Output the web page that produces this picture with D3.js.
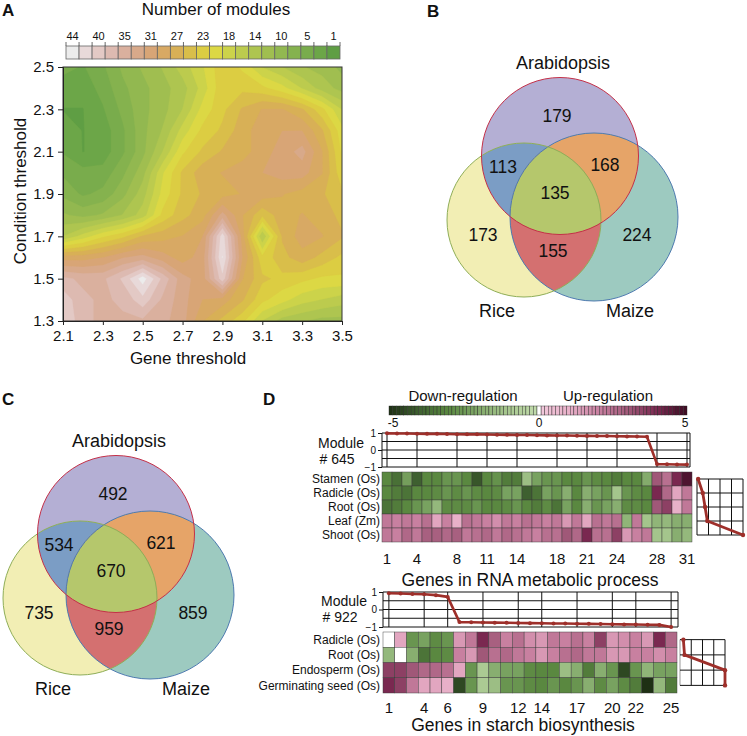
<!DOCTYPE html>
<html><head><meta charset="utf-8">
<script src="https://cdn.jsdelivr.net/npm/d3@7/dist/d3.min.js"></script>
<style>
html,body{margin:0;padding:0;background:#fff;}
svg{display:block;}
text{font-family:"Liberation Sans",Arial,Helvetica,sans-serif;fill:#111;}
</style></head>
<body>
<svg id="fig" width="747" height="736" viewBox="0 0 747 736"></svg>
<script>
// ================= DATA =================
// Panel A : number of modules on a gene-threshold x condition-threshold grid
const geneThresholds = [2.1,2.2,2.3,2.4,2.5,2.6,2.7,2.8,2.9,3.0,3.1,3.2,3.3,3.4,3.5];
const conditionThresholds = [1.3,1.4,1.5,1.6,1.7,1.8,1.9,2.0,2.1,2.2,2.3,2.4,2.5];
const geneTicks = [2.1,2.3,2.5,2.7,2.9,3.1,3.3,3.5];
const conditionTicks = [1.3,1.5,1.7,1.9,2.1,2.3,2.5];
const moduleCountTicks = [44,40,35,31,27,23,18,14,10,5,1];
const moduleBandColors = ["#ececec","#e8d9d9","#e3c9c5","#ddbab1","#dab09e","#d8a98a","#d8a576","#d8a964","#d8b056","#d9be4a","#dccd42","#dcd844","#ccd34a","#bccb4e","#aec550","#a0be50","#92b850","#85b24e","#79ac4c","#6ca648","#5f9e44"];
// rows: condition 1.3 (first) ... 2.5 (last); columns: gene 2.1 ... 3.5
const moduleCounts = [
  [41,37,36,36,36,35,33,28,25,22,17,14,13,12,12],
  [40,37,36,37,40,36,33,30,29,26,22,20,18,17,16],
  [37,36,36,39,44,38,33,31,40,28,24,23,22,21,21],
  [29,29,30,32,33,31,29,31,43,30,22,25,27,25,23],
  [15,18,21,23,26,27,28,30,42,29,15,26,29,28,26],
  [11,10,11,13,16,22,25,27,33,28,24,27,28,27,25],
  [8,6,7,10,14,20,24,26,27,28,29,28,27,26,24],
  [6,5,5,8,12,19,24,27,28,29,30,31,31,28,22],
  [4,2,3,6,10,15,21,24,26,27,29,31,33,28,21],
  [3,2,3,6,10,13,18,22,24,27,29,30,30,26,20],
  [2,2,4,7,10,12,15,20,23,26,28,28,26,22,17],
  [3,3,5,8,10,12,14,18,23,23,22,20,17,14,12],
  [5,4,6,9,11,13,16,19,23,21,17,15,13,12,10]
];

// Panels B and C : Venn counts
const vennSetNames = ["Arabidopsis","Rice","Maize"];
const vennRegionKeys = ["A","AR","AM","ARM","R","M","RM"];
const vennCountsB = [179,113,168,135,173,224,155];
const vennCountsC = [492,534,621,670,735,859,959];

// Panel D : module #645
const module645Profile = [0.98,0.97,0.97,0.96,0.95,0.95,0.94,0.93,0.92,0.92,0.91,0.90,0.89,0.88,0.88,0.87,0.86,0.85,0.85,0.84,0.83,0.82,0.82,0.81,0.80,0.79,0.78,-0.83,-0.84,-0.85,-0.86];
const module645Conditions = ["Stamen (Os)","Radicle (Os)","Root (Os)","Leaf (Zm)","Shoot (Os)"];
const module645Heat = [
  [-3,-3.6,-2.3,-4,-3,-3,-2.6,-2.6,-3,-4.2,-3,-2.7,-3.3,-3.3,-1.3,-2.2,-2.6,-2.6,-3,-3,-2.6,-2.9,-3,-3.3,-3,-3,-1.9,3,2.4,4,4.7],
  [-3,-3.3,-3.5,-3,-3,-2.9,-2.6,-2.9,-2.6,-2.9,-3,-2.9,-2.2,-2.2,-4,-3.5,-2.2,-2.6,-1.8,-3,-1.8,-2.2,-2.6,-1.1,-2.6,-2.9,-3,4,2.6,1.2,2.2],
  [-3.5,-3.3,-3,-2.6,-2.2,-1.5,-2.9,-2.9,-2.9,-2.6,-3,-3,-2.9,-2.6,-3,-3.3,-2.9,-3.5,-2.2,-3,-1.8,-2.6,-2.2,-1.8,-2.9,-2.9,-3,3,3.5,1,2.2],
  [2.2,2,2.2,2,2.4,1.2,2,1,2.4,2.2,2,1.7,2.2,2,2.4,2.2,2,2.2,1.5,2.2,1.2,2.4,2.2,2.4,-1.6,2.2,-1.1,-1.6,-1.5,-1.8,-1.8],
  [2.2,2,2.6,2.2,2.8,2.8,2.6,2.8,2.2,2.4,2.6,2.2,2.6,2.4,2.2,2,2.4,2.4,3,2.6,4,2.4,2.4,3.5,1.5,2,2.2,-1.1,-1.1,-1.8,-1.5]
];
const module645Ticks = [1,4,8,11,14,18,21,24,28,31];
const module645Side = [-0.95,-0.75,-0.65,-0.55,1];

// Panel D : module #922
const module922Profile = [0.93,0.91,0.89,0.87,0.82,0.72,-0.72,-0.73,-0.74,-0.75,-0.76,-0.77,-0.78,-0.79,-0.80,-0.80,-0.81,-0.82,-0.83,-0.84,-0.85,-0.86,-0.87,-0.88,-1.0];
const module922Conditions = ["Radicle (Os)","Root (Os)","Endosperm (Os)","Germinating seed (Os)"];
const module922Heat = [
  [0,1.2,-2.6,-2.2,-2.9,-2.6,1.5,2.2,4,2.8,2,2.4,1.7,1.5,2.2,2,2.4,2,3.5,1.5,1.7,2,1.5,4,2.6],
  [-1.5,0,-1.8,-3.5,-3,-2.9,2,1.5,3,2.4,2.6,2.2,2,1.5,2,2.4,2.6,2.2,2.2,1.5,1.5,2,2,1.7,2],
  [3.5,3.5,3,2.6,2.6,2.4,1.2,-2.6,-0.9,-1.8,-2.2,-2.2,-2.9,-3,-3,-1.3,-1.8,-3.3,-1.8,-2.6,-4.5,-2.6,-1.6,-2.2,-2.2],
  [4,3.5,2.2,1.2,1.2,1,-4.5,-2.6,-0.9,-1.3,-2.6,-2.6,-2.9,-3,-2.6,-3,-2.6,-1.8,-2.9,-2.2,-2.9,-3.3,-5,-1.5,-3.3]
];
const module922Ticks = [1,4,6,9,12,14,17,20,22,25];
const module922Side = [-0.85,-0.8,1,1];

const regulationStops = [-5,-4,-3,-2,-1,-0.001,0,0.001,1,2,3,4,5];
const regulationColors = ["#1e3014","#3e6030","#5a8840","#80a868","#a8c890","#c2dbac","#ffffff","#f2c8dc","#e8b0c8","#c880a0","#a05878","#7a2850","#3c0c22"];
const regulationTickLabels = ["-5","0","5"];

// ================= DRAW =================
const svg = d3.select("#fig");
svg.append("rect").attr("width",747).attr("height",736).attr("fill","#fff");

function panelLetter(t, x, y) {
  svg.append("text").attr("x",x).attr("y",y).attr("font-size",17).attr("font-weight","bold").text(t);
}
panelLetter("A",2,16); panelLetter("B",427,17); panelLetter("C",2,405); panelLetter("D",263,405);

// ---------- Panel A ----------
(function(){
  const xA = d3.scaleLinear().domain([2.1,3.5]).range([63,342]);
  const yA = d3.scaleLinear().domain([1.3,2.5]).range([321,67]);
  const g = svg.append("g");
  g.append("clipPath").attr("id","clipA").append("rect")
    .attr("x",xA(2.1)).attr("y",yA(2.5)).attr("width",xA(3.5)-xA(2.1)).attr("height",yA(1.3)-yA(2.5));
  const nx = geneThresholds.length, ny = conditionThresholds.length;
  const maxV = moduleCountTicks[0], minV = moduleCountTicks[moduleCountTicks.length-1];
  const nb = moduleBandColors.length;
  const step = (maxV-minV)/(nb-1);
  const thr = d3.range(nb-1,0,-1).map(k => maxV-(k-0.5)*step);
  const contours = d3.contours().size([nx,ny]).thresholds(thr)(moduleCounts.flat());
  const gx = d3.scaleLinear().domain([0.5,nx-0.5]).range([xA(geneThresholds[0]),xA(geneThresholds[nx-1])]);
  const gy = d3.scaleLinear().domain([0.5,ny-0.5]).range([yA(conditionThresholds[0]),yA(conditionThresholds[ny-1])]);
  const proj = d3.geoTransform({point(x,y){this.stream.point(gx(x),gy(y));}});
  const path = d3.geoPath(proj);
  const plot = g.append("g").attr("clip-path","url(#clipA)");
  plot.append("rect").attr("x",xA(2.1)).attr("y",yA(2.5)).attr("width",xA(3.5)-xA(2.1)).attr("height",yA(1.3)-yA(2.5)).attr("fill",moduleBandColors[nb-1]);
  plot.selectAll("path").data(contours).join("path")
    .attr("d",path)
    .attr("fill",d => moduleBandColors[Math.round((maxV-d.value)/step+0.5)-1])
    .attr("stroke",d => moduleBandColors[Math.round((maxV-d.value)/step+0.5)-1]).attr("stroke-width",0.3);
  g.append("rect").attr("x",xA(2.1)).attr("y",yA(2.5)).attr("width",xA(3.5)-xA(2.1)).attr("height",yA(1.3)-yA(2.5))
    .attr("fill","none").attr("stroke","#333").attr("stroke-width",1);
  const ax = g.append("g").attr("transform",`translate(0,${yA(1.3)})`)
    .call(d3.axisBottom(xA).tickValues(geneTicks).tickFormat(d3.format(".1f")).tickSize(4).tickPadding(5));
  const ay = g.append("g").attr("transform",`translate(${xA(2.1)},0)`)
    .call(d3.axisLeft(yA).tickValues(conditionTicks).tickFormat(d3.format(".1f")).tickSize(5).tickPadding(4));
  [ax,ay].forEach(a=>{a.selectAll("text").attr("font-size",15).attr("fill","#111").attr("font-family",'"Liberation Sans",Arial,sans-serif');
    a.selectAll("line,path").attr("stroke","#222");});
  g.append("text").attr("x",188).attr("y",364).attr("text-anchor","middle").attr("font-size",17).text("Gene threshold");
  g.append("text").attr("transform","translate(26,191) rotate(-90)").attr("text-anchor","middle").attr("font-size",17).text("Condition threshold");
  g.append("text").attr("x",216).attr("y",15).attr("text-anchor","middle").attr("font-size",17).text("Number of modules");
  // colour bar
  const cb = d3.scaleBand().domain(d3.range(nb)).range([66,340]);
  g.selectAll("rect.cb").data(moduleBandColors).join("rect").attr("class","cb")
    .attr("x",(d,i)=>cb(i)).attr("y",46).attr("width",cb.bandwidth()).attr("height",13)
    .attr("fill",d=>d).attr("stroke","#666").attr("stroke-width",0.8);
  g.selectAll("line.cbt").data(d3.range(nb+1)).join("line").attr("class","cbt")
    .attr("x1",i=>66+i*cb.bandwidth()).attr("x2",i=>66+i*cb.bandwidth()).attr("y1",42).attr("y2",46)
    .attr("stroke","#444").attr("stroke-width",0.8);
  g.selectAll("text.cbl").data(moduleCountTicks).join("text").attr("class","cbl")
    .attr("x",(d,i)=>cb(i*2)+cb.bandwidth()/2).attr("y",40).attr("text-anchor","middle").attr("font-size",11).text(d=>d);
})();

// ---------- Venn (B, C) ----------
const vennColors = {A:"#b4afd4",R:"#f2eeb4",M:"#9dcac0",AR:"#7b9dc5",AM:"#e6a468",RM:"#d47070",ARM:"#b5c76c"};
const vennStroke = {A:"#c43048",R:"#8fae58",M:"#4e7ab0"};
function drawVenn(cx, cy, counts, id) {
  const g = svg.append("g").attr("transform",`translate(${cx},${cy})`);
  const circ = {A:{x:0,y:0,r:78.5}, R:{x:-36,y:64,r:77}, M:{x:34,y:61,r:84}};
  const defs = g.append("defs");
  ["A","R","M"].forEach(k => defs.append("clipPath").attr("id",`${id}-${k}`).append("circle")
    .attr("cx",circ[k].x).attr("cy",circ[k].y).attr("r",circ[k].r));
  const c = (parent,k,fill,clip) => { const e = parent.append("circle").attr("cx",circ[k].x).attr("cy",circ[k].y).attr("r",circ[k].r).attr("fill",fill);
    if (clip) e.attr("clip-path",`url(#${id}-${clip})`); return e; };
  c(g,"A",vennColors.A); c(g,"R",vennColors.R); c(g,"M",vennColors.M);
  c(g,"R",vennColors.AR,"A"); c(g,"M",vennColors.AM,"A"); c(g,"M",vennColors.RM,"R");
  const gg = g.append("g").attr("clip-path",`url(#${id}-R)`); c(gg,"M",vennColors.ARM,"A");
  ["M","R","A"].forEach(k => g.append("circle").attr("cx",circ[k].x).attr("cy",circ[k].y).attr("r",circ[k].r)
    .attr("fill","none").attr("stroke",vennStroke[k]).attr("stroke-width",1));
  const off = {A:[-3,-40],AR:[-57,11],AM:[45,9],ARM:[-5,37],R:[-77,79],M:[77,79],RM:[-7,95]};
  vennRegionKeys.forEach((k,i)=> g.append("text").attr("x",off[k][0]).attr("y",off[k][1]).attr("dy","0.36em")
    .attr("text-anchor","middle").attr("font-size",17.5).text(counts[i]));
  const lab = [[3,-93],[-63,155],[70,155]];
  vennSetNames.forEach((n,i)=> g.append("text").attr("x",lab[i][0]).attr("y",lab[i][1]).attr("dy","0.36em")
    .attr("text-anchor","middle").attr("font-size",18).text(n));
}
drawVenn(560,156,vennCountsB,"vb");
drawVenn(116,534,vennCountsC,"vc");

// ---------- Panel D ----------
const regColor = d3.scaleLinear().domain(regulationStops).range(regulationColors).clamp(true);
(function(){
  const g = svg.append("g");
  const nCells = 40;
  const xg = d3.scaleLinear().domain([-5,0]).range([389,537]);
  const xp = d3.scaleLinear().domain([0,5]).range([541,687]);
  const cw = (537-389)/nCells, pw = (687-541)/nCells;
  d3.range(nCells).forEach(i=>{
    const v = -5 + (i+0.5)*5/nCells;
    g.append("rect").attr("x",xg(-5+i*5/nCells)).attr("y",406).attr("width",cw).attr("height",9)
      .attr("fill",regColor(v)).attr("stroke","#222").attr("stroke-width",0.4);
    const w = (i+0.5)*5/nCells;
    g.append("rect").attr("x",xp(i*5/nCells)).attr("y",406).attr("width",pw).attr("height",9)
      .attr("fill",regColor(w)).attr("stroke","#222").attr("stroke-width",0.4);
  });
  g.append("rect").attr("x",537).attr("y",406).attr("width",4).attr("height",9).attr("fill","#fff").attr("stroke","#222").attr("stroke-width",0.4);
  g.append("text").attr("x",463).attr("y",401).attr("text-anchor","middle").attr("font-size",15).text("Down-regulation");
  g.append("text").attr("x",608).attr("y",401).attr("text-anchor","middle").attr("font-size",15).text("Up-regulation");
  const lx = [393,539,685];
  regulationTickLabels.forEach((t,i)=> g.append("text").attr("x",lx[i]).attr("y",427).attr("text-anchor","middle").attr("font-size",12).text(t));
})();

function drawModule(o) {
  const n = o.profile.length;
  const genes = d3.range(1,n+1);
  const xb = d3.scaleBand().domain(genes).range([o.x0,o.x1]);
  const xc = gn => xb(gn) + xb.bandwidth()/2;
  const yl = d3.scaleLinear().domain([-1,1]).range([o.lineBottom,o.lineTop]);
  const yr = d3.scaleBand().domain(o.conditions).range([o.heatTop,o.heatTop+o.rowH*o.conditions.length]);
  const g = svg.append("g");
  const lc = g.append("g").attr("stroke","#111").attr("stroke-width",1);
  [1,0.5,0,-0.5,-1].forEach(v => lc.append("line").attr("x1",o.x0).attr("x2",o.boxRight).attr("y1",yl(v)).attr("y2",yl(v)));
  o.ticks.forEach(t => lc.append("line").attr("x1",xc(t)).attr("x2",xc(t)).attr("y1",yl(1)).attr("y2",yl(-1)));
  lc.append("line").attr("x1",o.x0).attr("x2",o.x0).attr("y1",yl(1)).attr("y2",yl(-1));
  lc.append("line").attr("x1",o.boxRight).attr("x2",o.boxRight).attr("y1",yl(1)).attr("y2",yl(-1));
  const ay = g.append("g").attr("transform",`translate(${o.x0},0)`)
    .call(d3.axisLeft(yl).tickValues([-1,0,1]).tickSize(4).tickPadding(2).tickFormat(d=>d<0?"\u22121":String(d)));
  ay.select(".domain").remove();
  ay.selectAll("line").attr("stroke","#111");
  ay.selectAll("text").attr("font-size",10).attr("fill","#111").attr("font-family",'"Liberation Sans",Arial,sans-serif');
  g.append("path").datum(o.profile)
    .attr("d",d3.line().x((d,i)=>xc(i+1)).y(d=>yl(d)))
    .attr("fill","none").attr("stroke","#9e2f2a").attr("stroke-width",2.6).attr("stroke-linejoin","round");
  g.selectAll("circle.lp").data(o.profile).join("circle").attr("class","lp")
    .attr("cx",(d,i)=>xc(i+1)).attr("cy",d=>yl(d)).attr("r",2).attr("fill","#9e2f2a");
  g.append("text").attr("x",o.labelX).attr("y",o.labelY1).attr("text-anchor","middle").attr("font-size",14).text("Module");
  g.append("text").attr("x",o.labelX-4).attr("y",o.labelY2).attr("text-anchor","middle").attr("font-size",14).text(o.name);
  // heatmap
  o.heat.forEach((row,r)=>{
    row.forEach((v,i)=>{
      g.append("rect").attr("x",xb(i+1)).attr("y",yr(o.conditions[r])).attr("width",xb.bandwidth()).attr("height",yr.bandwidth())
        .attr("fill",regColor(v)).attr("stroke","#3a3a3a").attr("stroke-width",0.45);
    });
    g.append("text").attr("x",380).attr("y",yr(o.conditions[r])+yr.bandwidth()/2).attr("dy","0.36em")
      .attr("text-anchor","end").attr("font-size",12).text(o.conditions[r]);
  });
  o.ticks.forEach(t => g.append("text").attr("x",xc(t)).attr("y",o.tickY).attr("text-anchor","middle").attr("font-size",15).text(t));
  g.append("text").attr("x",o.titleX).attr("y",o.titleY).attr("text-anchor","middle").attr("font-size",17.5).text(o.title);
  // side profile
  const sx = d3.scaleLinear().domain([-1,1]).range([o.sideX0,o.sideX1]);
  const rc = c => yr(c)+yr.bandwidth()/2;
  const first = rc(o.conditions[0]), last = rc(o.conditions[o.conditions.length-1]);
  const sg = g.append("g").attr("stroke","#111").attr("stroke-width",1);
  [-1,-0.5,0,0.5,1].forEach(v => sg.append("line").attr("x1",sx(v)).attr("x2",sx(v)).attr("y1",first).attr("y2",last)
     .attr("stroke",v===-1&&o.grayLeft?"#999":"#111"));
  o.conditions.forEach(c => sg.append("line").attr("x1",sx(-1)).attr("x2",sx(1)).attr("y1",rc(c)).attr("y2",rc(c)));
  g.append("path").datum(o.side)
    .attr("d",d3.line().x(d=>sx(d)).y((d,i)=>rc(o.conditions[i])))
    .attr("fill","none").attr("stroke","#9e2f2a").attr("stroke-width",2.8).attr("stroke-linejoin","round");
  g.selectAll("circle.sp").data(o.side).join("circle").attr("class","sp")
    .attr("cx",d=>sx(d)).attr("cy",(d,i)=>rc(o.conditions[i])).attr("r",2.2).attr("fill","#9e2f2a");
}

drawModule({profile:module645Profile, heat:module645Heat, conditions:module645Conditions, ticks:module645Ticks, side:module645Side,
  x0:382, x1:692, boxRight:690, lineTop:433, lineBottom:467, heatTop:472, rowH:14,
  labelX:341, labelY1:448, labelY2:464, name:"# 645",
  tickY:564, title:"Genes in RNA metabolic process", titleX:530, titleY:586,
  sideX0:697, sideX1:743, grayLeft:false});

drawModule({profile:module922Profile, heat:module922Heat, conditions:module922Conditions, ticks:module922Ticks, side:module922Side,
  x0:383, x1:677, boxRight:678, lineTop:592, lineBottom:627, heatTop:632, rowH:15.25,
  labelX:344, labelY1:606, labelY2:622, name:"# 922",
  tickY:713, title:"Genes in starch biosynthesis", titleX:523, titleY:731,
  sideX0:680, sideX1:725, grayLeft:true});
</script>
</body></html>
